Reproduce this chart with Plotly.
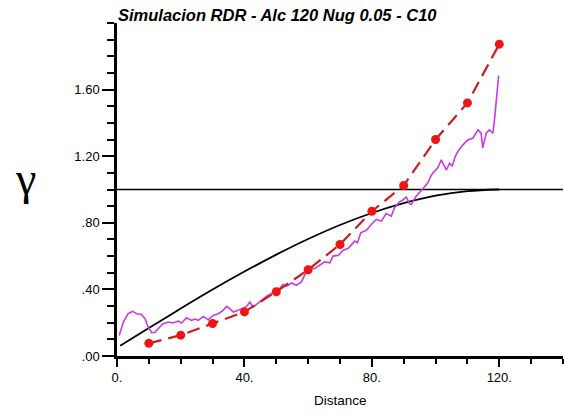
import plotly.graph_objects as go

# Experimental (simulated) variogram - magenta
sim_x = [0.7, 2.0, 3.5, 4.9, 6.2, 7.7, 8.8, 9.8, 10.9, 11.9, 12.9, 14.5, 16.1, 17.6, 19.2, 20.3,
         21.8, 23.4, 24.5, 25.5, 27.1, 28.6, 30.2, 31.8, 33.3, 34.4, 35.4, 36.5, 38.0, 39.6, 40.7,
         41.7, 42.7, 43.8, 45.4, 46.9, 48.5, 49.5, 51.1, 52.1, 53.2, 54.8, 56.3, 57.9, 59.0, 60.5,
         62.0, 63.6, 65.2, 66.8, 67.8, 69.5, 71.0, 72.5, 74.6, 75.5, 76.5, 78.3, 79.8, 81.4, 83.0,
         84.5, 86.1, 87.1, 88.7, 89.7, 90.8, 91.8, 92.4, 93.9, 96.0, 97.6, 98.5, 99.2, 100.7, 101.8,
         103.4, 104.4, 105.2, 106.2, 107.0, 108.6, 110.1, 111.7, 113.3, 114.3, 114.8, 115.9, 116.9,
         118.0, 118.5, 119.8]
sim_y = [0.123, 0.204, 0.254, 0.268, 0.254, 0.250, 0.224, 0.173, 0.140, 0.143, 0.164, 0.194, 0.204,
         0.198, 0.210, 0.198, 0.230, 0.214, 0.222, 0.214, 0.238, 0.218, 0.244, 0.254, 0.274, 0.298,
         0.284, 0.264, 0.274, 0.290, 0.298, 0.324, 0.294, 0.310, 0.334, 0.358, 0.375, 0.384, 0.405,
         0.430, 0.419, 0.439, 0.425, 0.445, 0.490, 0.530, 0.525, 0.545, 0.565, 0.560, 0.600, 0.605,
         0.635, 0.645, 0.690, 0.680, 0.740, 0.755, 0.790, 0.820, 0.810, 0.855, 0.840, 0.890, 0.926,
         0.937, 0.955, 0.915, 0.910, 0.960, 1.005, 1.040, 1.080, 1.100, 1.130, 1.178, 1.117, 1.158,
         1.140, 1.200, 1.228, 1.268, 1.298, 1.308, 1.358, 1.338, 1.250, 1.338, 1.358, 1.338, 1.420,
         1.684]

# Reference variogram (red dashed with markers)
ref_x = [10, 20, 30, 40, 50, 60, 70, 80, 90, 100, 110, 120]
ref_y = [0.076, 0.125, 0.195, 0.265, 0.386, 0.518, 0.670, 0.869, 1.024, 1.300, 1.520, 1.873]

# Model curve (black)
mod_x = [1, 10, 20, 30, 40, 50, 60, 70, 80, 90, 100, 110, 120]
mod_y = [0.062, 0.168, 0.285, 0.399, 0.507, 0.609, 0.703, 0.787, 0.859, 0.918, 0.963, 0.990, 1.000]

# Sill line
sill_x = [0, 140]
sill_y = [1.0, 1.0]

x_ticks = [0, 40, 80, 120]
x_labels = ["0.", "40.", "80.", "120."]
y_ticks = [0, 0.4, 0.8, 1.2, 1.6]
y_labels = [".00", ".40", ".80", "1.20", "1.60"]

fig = go.Figure()
fig.add_trace(go.Scatter(x=sill_x, y=sill_y, mode="lines",
                         line=dict(color="black", width=1.6), showlegend=False))
fig.add_trace(go.Scatter(x=mod_x, y=mod_y, mode="lines", line_shape="spline",
                         line=dict(color="black", width=1.8), showlegend=False))
fig.add_trace(go.Scatter(x=sim_x, y=sim_y, mode="lines",
                         line=dict(color="#c83ae6", width=1.6), showlegend=False))
fig.add_trace(go.Scatter(x=ref_x, y=ref_y, mode="lines+markers",
                         line=dict(color="#cc1e1e", width=2.2, dash="13px,7px"),
                         marker=dict(color="#f01414", size=9),
                         showlegend=False, cliponaxis=False))

fig.update_layout(
    width=564, height=415,
    margin=dict(l=117, r=1, t=23, b=59),
    plot_bgcolor="white", paper_bgcolor="white",
    font=dict(family="Liberation Sans, Arial, sans-serif", color="black", size=13),
    title=dict(text="<b><i>Simulacion RDR - Alc 120 Nug 0.05 - C10</i></b>",
               x=118 / 564, xanchor="left", xref="container",
               y=1 - 15 / 415, yanchor="middle", yref="container",
               font=dict(size=16.5, family="Liberation Sans, Arial, sans-serif", color="black")),
    xaxis=dict(range=[0, 140], showgrid=False, zeroline=False,
               showline=True, linecolor="black", linewidth=2.5,
               tickmode="array", tickvals=x_ticks, ticktext=x_labels,
               ticks="outside", ticklen=8, tickwidth=1.5, tickcolor="black",
               minor=dict(tickmode="linear", tick0=0, dtick=10, ticks="outside",
                          ticklen=5, tickwidth=1.5, tickcolor="black", showgrid=False),
               tickfont=dict(size=13)),
    yaxis=dict(range=[0, 2.0], showgrid=False, zeroline=False,
               showline=True, linecolor="black", linewidth=2.5,
               tickmode="array", tickvals=y_ticks, ticktext=y_labels,
               ticks="outside", ticklen=12, tickwidth=1.5, tickcolor="black",
               minor=dict(tickmode="linear", tick0=0, dtick=0.1, ticks="outside",
                          ticklen=7, tickwidth=1.5, tickcolor="black", showgrid=False),
               tickfont=dict(size=13)),
    annotations=[
        dict(text="γ", xref="paper", yref="paper", x=(25 - 117) / 446, y=(355.5 - 178) / 333,
             xanchor="center", yanchor="middle", showarrow=False,
             font=dict(size=46, family="Liberation Serif, serif", color="black")),
        dict(text="Distance", xref="paper", yref="paper", x=(340 - 117) / 446, y=(355.5 - 400) / 333,
             xanchor="center", yanchor="middle", showarrow=False,
             font=dict(size=13.5, color="black")),
    ],
)

fig.write_html("out.html", config={"displayModeBar": False},
               post_script="document.body.style.margin='0';document.body.style.overflow='hidden';")
